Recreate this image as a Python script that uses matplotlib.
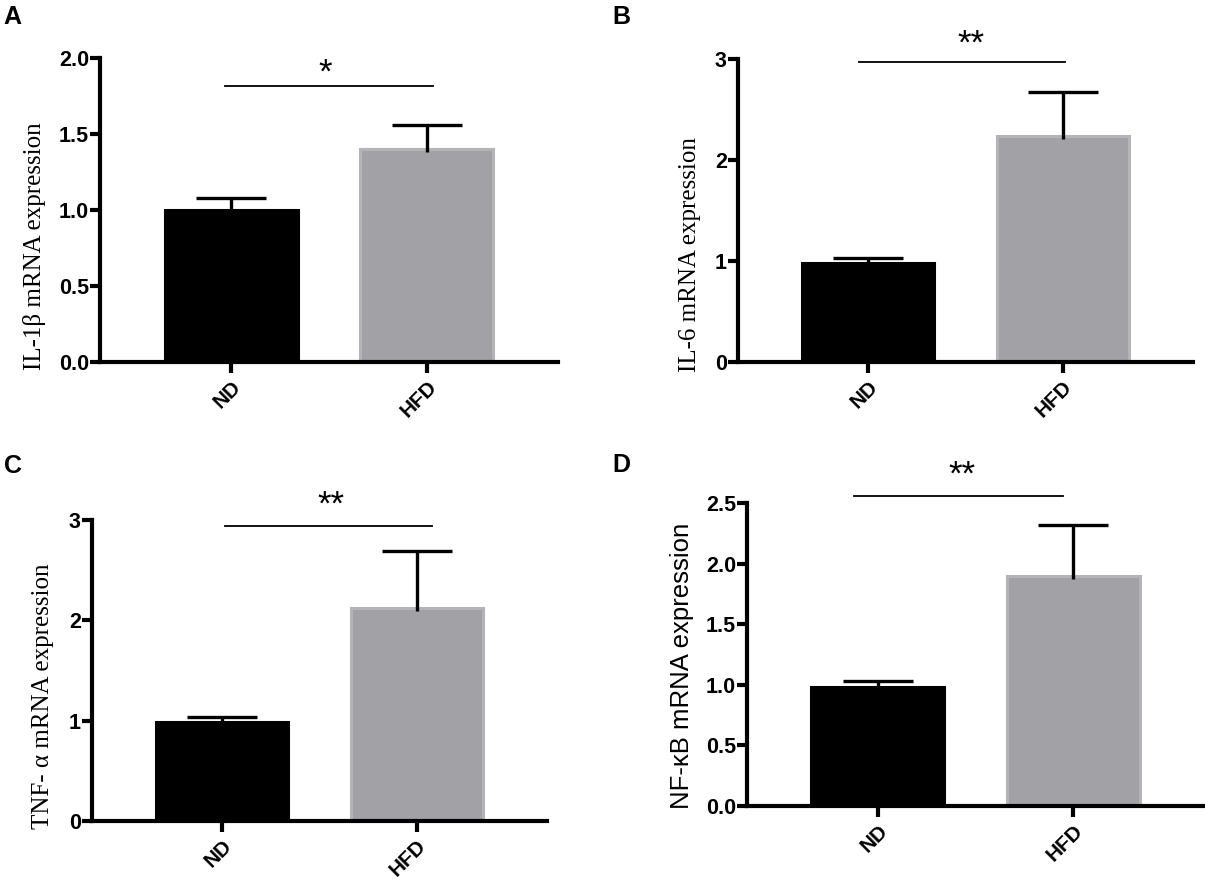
import matplotlib
matplotlib.use("Agg")
import matplotlib.pyplot as plt

# ---- data ----
groups = ["ND", "HFD"]

il1b_mean = [1.00, 1.40]
il1b_err = [0.08, 0.16]

il6_mean = [0.98, 2.24]
il6_err = [0.05, 0.43]

tnfa_mean = [0.99, 2.12]
tnfa_err = [0.05, 0.57]

nfkb_mean = [0.98, 1.90]
nfkb_err = [0.05, 0.42]

sig_labels = ["*", "**", "**", "**"]

SANS = "Liberation Sans"
SERIF = "Liberation Serif"
GRAY = "#a2a1a6"
GRAY_EDGE = "#b4b3b6"

fig = plt.figure(figsize=(12.05, 8.85), dpi=100)


def panel(rect, means, errs, ymax, yticks, fmt, ylabel, yfont, label_xy,
          sig, sig_line, sig_text, letter, letter_xy):
    ax = fig.add_axes(rect)
    xs = list(range(len(means)))
    ax.bar(xs, means, width=0.68, color=["black", GRAY],
           edgecolor=["black", GRAY_EDGE], linewidth=2.2, zorder=2)
    # upper-only error bars with caps
    cap = 0.18
    for x, m, e in zip(xs, means, errs):
        ax.plot([x, x], [m - 0.01 * ymax, m + e], color="black", lw=2.4,
                solid_capstyle="butt", zorder=3)
        ax.plot([x - cap, x + cap], [m + e, m + e], color="black", lw=2.4,
                solid_capstyle="butt", zorder=3)

    ax.set_xlim(-0.67, 1.67)
    ax.set_ylim(0, ymax)
    ax.set_yticks(yticks)
    ax.set_yticklabels([fmt.format(v) for v in yticks], fontfamily=SANS,
                       fontweight="bold", fontsize=15.5)
    ax.set_xticks(xs)
    ax.set_xticklabels(groups, rotation=45, ha="right", va="top",
                       rotation_mode="anchor", fontfamily=SANS,
                       fontweight="bold", fontsize=15)
    for s in ["top", "right"]:
        ax.spines[s].set_visible(False)
    for s in ["left", "bottom"]:
        ax.spines[s].set_linewidth(3.0)
    ax.tick_params(axis="y", direction="out", length=7, width=3, pad=1)
    ax.tick_params(axis="x", direction="out", length=8, width=3, pad=3)

    ax.set_ylabel(ylabel, fontfamily=yfont, fontsize=label_xy[2], va="center")
    ax.yaxis.set_label_coords(label_xy[0], label_xy[1])

    # significance bar
    x0, x1, yl = sig_line
    ax.plot([x0, x1], [yl, yl], color="black", lw=1.3, clip_on=False)
    ax.text(sig_text[0], sig_text[1], sig, ha="center", va="center",
            fontfamily=SANS, fontsize=25, clip_on=False)

    fig.text(letter_xy[0], letter_xy[1], letter, ha="left", va="top",
             fontfamily=SANS, fontweight="bold", fontsize=18)
    return ax


W, H = 1205, 885


def rect(l, r, t, b):
    return [l / W, 1 - b / H, (r - l) / W, (b - t) / H]


panel(rect(100, 558, 58, 362), il1b_mean, il1b_err, 2.0,
      [0.0, 0.5, 1.0, 1.5, 2.0], "{:.1f}", "IL-1\u03b2 mRNA expression", SERIF,
      (-0.142, 0.38, 18), sig_labels[0], (-0.03, 1.03, 1.816), (0.48, 1.90),
      "A", (0.003, 1 - 5 / H))

panel(rect(738, 1193, 59, 362), il6_mean, il6_err, 3,
      [0, 1, 2, 3], "{:.0f}", "IL-6 mRNA expression", SERIF,
      (-0.105, 0.356, 18), sig_labels[1], (-0.05, 1.01, 2.97), (0.53, 3.15),
      "B", (612 / W, 1 - 5 / H))

panel(rect(92, 547, 520, 821), tnfa_mean, tnfa_err, 3,
      [0, 1, 2, 3], "{:.0f}", "TNF- \u03b1 mRNA expression", SERIF,
      (-0.108, 0.414, 18), sig_labels[2], (0.015, 1.08, 2.94), (0.56, 3.15),
      "C", (0.003, 1 - 454 / H))

panel(rect(747, 1204, 503, 806), nfkb_mean, nfkb_err, 2.5,
      [0.0, 0.5, 1.0, 1.5, 2.0, 2.5], "{:.1f}", "NF-\u03baB mRNA expression", SANS,
      (-0.142, 0.462, 18.5), sig_labels[3], (-0.12, 0.95, 2.56), (0.43, 2.73),
      "D", (612 / W, 1 - 453 / H))

fig.savefig("out.png", dpi=100)
